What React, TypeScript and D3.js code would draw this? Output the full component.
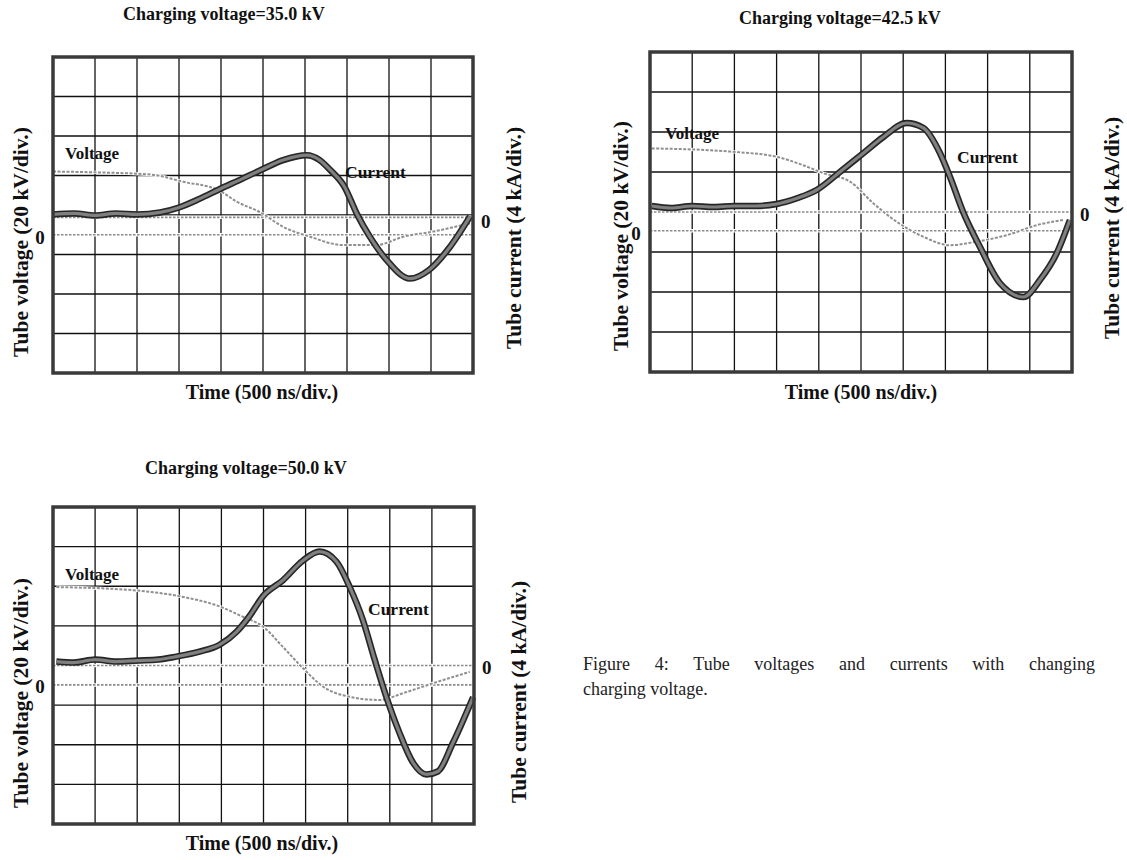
import * as d3 from 'd3';
import React, { useRef, useEffect } from 'react';

const W = 1127;
const H = 860;
const NS_PER_DIV = 500;
const KV_PER_DIV = 20;
const KA_PER_DIV = 4;
const DIVS_X = 10;
const DIVS_Y = 8;
const SERIF = '"Liberation Serif", "Times New Roman", serif';

const titles = ['Charging voltage=35.0 kV', 'Charging voltage=42.5 kV', 'Charging voltage=50.0 kV'];
const timeLabel = 'Time (500 ns/div.)';
const voltAxisLabel = 'Tube voltage (20 kV/div.)';
const currAxisLabel = 'Tube current (4 kA/div.)';
const captionLines = ['Figure 4: Tube voltages and currents with changing', 'charging voltage.'];

// 35.0 kV shot (time in ns, current in kA, voltage in kV)
const current35Time = [0, 250, 500, 750, 1000, 1275, 1500, 1750, 1970, 2250, 2475, 2740, 3020, 3175, 3300, 3470, 3615, 3775, 3970, 4250, 4480, 4725, 4965];
const current35 = [0.3, 0.4, 0.2, 0.4, 0.3, 0.5, 1.0, 1.9, 2.8, 3.9, 4.8, 5.8, 6.3, 5.8, 4.8, 3.1, 0.4, -2.0, -4.3, -6.2, -5.3, -3.0, 0.1];
const voltage35Time = [0, 500, 1180, 1550, 1970, 2185, 2475, 2740, 3060, 3450, 3850, 4170, 4525, 4965];
const voltage35 = [32, 31.6, 30.4, 26.8, 22.6, 16.8, 11.2, 4, -1, -5.2, -5.2, -1, 1.6, 5.8];

// 42.5 kV shot
const current42Time = [20, 250, 500, 750, 1000, 1250, 1500, 1750, 1975, 2250, 2530, 2765, 3040, 3240, 3435, 3555, 3710, 3910, 4145, 4425, 4620, 4820, 4975];
const current42 = [0.6, 0.4, 0.6, 0.5, 0.6, 0.6, 0.8, 1.4, 2.2, 4.0, 5.9, 7.5, 8.9, 8.4, 5.9, 3.5, 0, -3.5, -7.1, -8.5, -6.8, -4.1, -0.8];
const voltage42Time = [20, 950, 1500, 1815, 2055, 2370, 2645, 2920, 3240, 3555, 3870, 4225, 4580, 4895];
const voltage42 = [41.2, 39.6, 37, 32.8, 28.8, 24.6, 13.8, 4.6, -3, -7.2, -5.4, -2.2, 2.8, 5.4];

// 50.0 kV shot
const current50Time = [40, 250, 500, 750, 1000, 1250, 1465, 1740, 1980, 2180, 2335, 2495, 2730, 2970, 3165, 3365, 3525, 3680, 3820, 3960, 4115, 4275, 4435, 4570, 4750, 4990];
const current50 = [0.4, 0.3, 0.6, 0.4, 0.5, 0.6, 0.9, 1.4, 2.1, 3.4, 5.0, 7.0, 8.6, 10.6, 11.5, 10.5, 7.9, 4.6, 0.6, -3.2, -6.8, -9.8, -11, -10.7, -7.8, -3.2];
const voltage50Time = [40, 950, 1545, 1940, 2255, 2495, 2730, 2970, 3205, 3525, 3880, 4155, 4510, 4950];
const voltage50 = [49.4, 47.8, 44.4, 40.2, 34.4, 29.4, 19.2, 8.4, -0.8, -6, -7.6, -4.2, 0.8, 6.6];

const panels = [
  {
    title: titles[0], x: 53, y: 57, w: 420, h: 316, iZero: -0.06, vZero: -0.5,
    iT: current35Time, iV: current35, vT: voltage35Time, vV: voltage35,
    titlePos: [224, 20], timePos: [262, 399], leftLab: [21, 242], rightLab: [514, 238],
    leftZero: [40, 244], rightZero: [481, 228], voltTxt: [65, 159], currTxt: [345, 178],
  },
  {
    title: titles[1], x: 650, y: 52, w: 422, h: 320, iZero: 0, vZero: -0.47,
    iT: current42Time, iV: current42, vT: voltage42Time, vV: voltage42,
    titlePos: [840, 24], timePos: [861, 399], leftLab: [621, 236], rightLab: [1112, 228],
    leftZero: [636, 240], rightZero: [1080, 221], voltTxt: [665, 139], currTxt: [957, 163],
  },
  {
    title: titles[2], x: 53, y: 507, w: 421, h: 317, iZero: 0, vZero: -0.49,
    iT: current50Time, iV: current50, vT: voltage50Time, vV: voltage50,
    titlePos: [246, 474], timePos: [262, 850], leftLab: [21, 693], rightLab: [519, 692],
    leftZero: [40, 693], rightZero: [482, 674], voltTxt: [65, 580], currTxt: [368, 615],
  },
];

function App() {
  const svgRef = useRef<SVGSVGElement>(null);

  useEffect(() => {
    const svg = d3.select(svgRef.current);
    svg.selectAll('*').remove();
    svg.append('rect').attr('width', W).attr('height', H).attr('fill', '#fff');

    panels.forEach((p) => {
      const g = svg.append('g').attr('transform', `translate(${p.x},${p.y})`);
      const x = d3.scaleLinear().domain([0, NS_PER_DIV * DIVS_X]).range([0, p.w]);
      const yDiv = d3.scaleLinear().domain([-DIVS_Y / 2, DIVS_Y / 2]).range([p.h, 0]);
      const yI = d3.scaleLinear()
        .domain([(-DIVS_Y / 2 - p.iZero) * KA_PER_DIV, (DIVS_Y / 2 - p.iZero) * KA_PER_DIV])
        .range([p.h, 0]);
      const yV = d3.scaleLinear()
        .domain([(-DIVS_Y / 2 - p.vZero) * KV_PER_DIV, (DIVS_Y / 2 - p.vZero) * KV_PER_DIV])
        .range([p.h, 0]);

      /* grid */
      g.selectAll('.vgrid')
        .data(d3.range(1, DIVS_X).map((i) => i * NS_PER_DIV))
        .enter().append('line')
        .attr('x1', (d) => x(d)).attr('x2', (d) => x(d))
        .attr('y1', 0).attr('y2', p.h)
        .attr('stroke', '#111').attr('stroke-width', 1.3);
      g.selectAll('.hgrid')
        .data(d3.range(-DIVS_Y / 2 + 1, DIVS_Y / 2))
        .enter().append('line')
        .attr('x1', 0).attr('x2', p.w)
        .attr('y1', (d) => yDiv(d)).attr('y2', (d) => yDiv(d))
        .attr('stroke', '#111').attr('stroke-width', 1.3);

      /* zero reference lines */
      [yI(0), yV(0)].forEach((yy) => {
        g.append('line').attr('x1', 0).attr('x2', p.w).attr('y1', yy).attr('y2', yy)
          .attr('stroke', '#fff').attr('stroke-width', 3.5);
        g.append('line').attr('x1', 0).attr('x2', p.w).attr('y1', yy).attr('y2', yy)
          .attr('stroke', '#8a8a8a').attr('stroke-width', 1.6).attr('stroke-dasharray', '2.5,1.5');
      });

      /* voltage trace */
      const vLine = d3.line<number>()
        .x((d, i) => x(p.vT[i]))
        .y((d) => yV(d))
        .curve(d3.curveMonotoneX);
      g.append('path').attr('d', vLine(p.vV))
        .attr('fill', 'none').attr('stroke', '#fff').attr('stroke-width', 3.2);
      g.append('path').attr('d', vLine(p.vV))
        .attr('fill', 'none').attr('stroke', '#8f8f8f').attr('stroke-width', 2)
        .attr('stroke-dasharray', '3,1.5');

      /* current trace */
      const iLine = d3.line<number>()
        .x((d, i) => x(p.iT[i]))
        .y((d) => yI(d))
        .curve(d3.curveMonotoneX);
      g.append('path').attr('d', iLine(p.iV))
        .attr('fill', 'none').attr('stroke', '#262626').attr('stroke-width', 6.5)
        .attr('stroke-linejoin', 'round');
      g.append('path').attr('d', iLine(p.iV))
        .attr('fill', 'none').attr('stroke', '#808080').attr('stroke-width', 3.2)
        .attr('stroke-linejoin', 'round');

      /* frame */
      g.append('rect').attr('x', 0).attr('y', 0).attr('width', p.w).attr('height', p.h)
        .attr('fill', 'none').attr('stroke', '#3a3a3a').attr('stroke-width', 3.5);

      /* texts */
      const bold = (sel: any, size: number) =>
        sel.attr('font-family', SERIF).attr('font-weight', 'bold').attr('font-size', size).attr('fill', '#111');

      bold(svg.append('text').attr('x', p.titlePos[0]).attr('y', p.titlePos[1])
        .attr('text-anchor', 'middle').text(p.title), 18);
      bold(svg.append('text').attr('x', p.timePos[0]).attr('y', p.timePos[1])
        .attr('text-anchor', 'middle').text(timeLabel), 20);
      bold(svg.append('text')
        .attr('transform', `translate(${p.leftLab[0]},${p.leftLab[1]}) rotate(-90)`)
        .attr('text-anchor', 'middle').attr('dominant-baseline', 'central').text(voltAxisLabel), 21.5);
      bold(svg.append('text')
        .attr('transform', `translate(${p.rightLab[0]},${p.rightLab[1]}) rotate(-90)`)
        .attr('text-anchor', 'middle').attr('dominant-baseline', 'central').text(currAxisLabel), 21.5);
      bold(svg.append('text').attr('x', p.leftZero[0]).attr('y', p.leftZero[1])
        .attr('text-anchor', 'middle').text('0'), 19);
      bold(svg.append('text').attr('x', p.rightZero[0]).attr('y', p.rightZero[1])
        .attr('text-anchor', 'start').text('0'), 19);
      bold(svg.append('text').attr('x', p.voltTxt[0]).attr('y', p.voltTxt[1]).text('Voltage'), 17);
      bold(svg.append('text').attr('x', p.currTxt[0]).attr('y', p.currTxt[1]).text('Current'), 17.5);
    });

    /* caption, first line justified */
    const capFont = 18;
    const capX0 = 583;
    const capX1 = 1095;
    const capY = [670, 695];
    const words = captionLines[0].split(' ');
    const tmp = svg.append('g');
    const widths = words.map((w) => {
      const t = tmp.append('text').attr('font-family', SERIF).attr('font-size', capFont).text(w);
      return (t.node() as SVGTextElement).getComputedTextLength();
    });
    tmp.remove();
    const gap = (capX1 - capX0 - d3.sum(widths)) / (words.length - 1);
    let cx = capX0;
    words.forEach((w, i) => {
      svg.append('text').attr('x', cx).attr('y', capY[0])
        .attr('font-family', SERIF).attr('font-size', capFont).attr('fill', '#222').text(w);
      cx += widths[i] + gap;
    });
    svg.append('text').attr('x', capX0).attr('y', capY[1])
      .attr('font-family', SERIF).attr('font-size', capFont).attr('fill', '#222').text(captionLines[1]);
  }, []);

  return (
    <svg ref={svgRef} width={W} height={H} style={{ position: 'absolute', left: 0, top: 0 }}></svg>
  );
}

export default App;
